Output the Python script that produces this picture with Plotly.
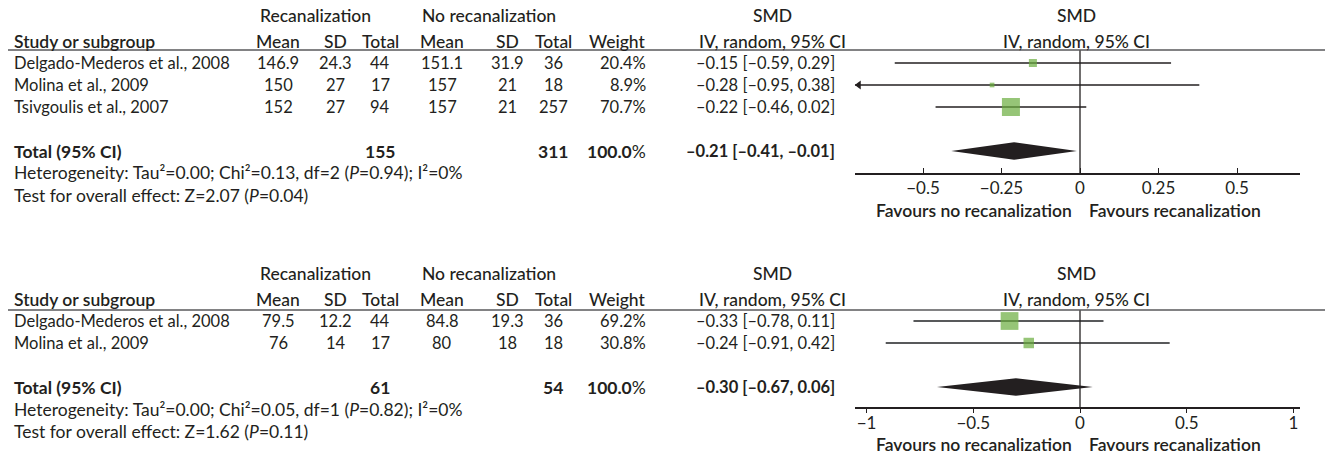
import plotly.graph_objects as go

W, H = 1325, 454

# ---------- Outcome 1 ----------
p1_studies = ["Delgado-Mederos et al., 2008", "Molina et al., 2009", "Tsivgoulis et al., 2007"]
p1_rec_mean = [146.9, 150, 152]
p1_rec_sd = [24.3, 27, 27]
p1_rec_n = [44, 17, 94]
p1_norec_mean = [151.1, 157, 157]
p1_norec_sd = [31.9, 21, 21]
p1_norec_n = [36, 18, 257]
p1_weight = [20.4, 8.9, 70.7]
p1_smd = [-0.15, -0.28, -0.22]
p1_lo = [-0.59, -0.95, -0.46]
p1_hi = [0.29, 0.38, 0.02]
p1_total_smd = [-0.21, -0.41, -0.01]
p1_total_n = [155, 311]
p1_het = ["0.00", "0.13", "2", "0.94", "0"]
p1_z = ["2.07", "0.04"]
p1_ticks = [-0.5, -0.25, 0, 0.25, 0.5]

# ---------- Outcome 2 ----------
p2_studies = ["Delgado-Mederos et al., 2008", "Molina et al., 2009"]
p2_rec_mean = [79.5, 76]
p2_rec_sd = [12.2, 14]
p2_rec_n = [44, 17]
p2_norec_mean = [84.8, 80]
p2_norec_sd = [19.3, 18]
p2_norec_n = [36, 18]
p2_weight = [69.2, 30.8]
p2_smd = [-0.33, -0.24]
p2_lo = [-0.78, -0.91]
p2_hi = [0.11, 0.42]
p2_total_smd = [-0.30, -0.67, 0.06]
p2_total_n = [61, 54]
p2_het = ["0.00", "0.05", "1", "0.82", "0"]
p2_z = ["1.62", "0.11"]
p2_ticks = [-1, -0.5, 0, 0.5, 1]

FONT = "Lato"
TXT = "#231f20"
GREEN = "#6aad3d"
RULE = "#58595b"
FS_ROW = 16.5   # study rows
FS_BIG = 17.5   # headings, totals and footers
FS_TICK = 17

# column x positions (pixels)
X_STUDY = 12
X_RMEAN, X_RSD, X_RN = 278, 336, 380
X_NMEAN, X_NSD, X_NN = 442, 507, 553
X_WEIGHT = 648
X_SMD_R, X_SMD_C = 837, 772
X_REC_HDR, X_NOREC_HDR = 315, 489
X_PLOT0, X_PLOT1 = 855, 1300
X_FOREST_C = 1076
ROW_H = 22

# pixel layout of the two panels: (first row, heading rule, axis line)
P1 = (63, 50, 173)
P2 = (321, 310, 407)


def minus(s):
    return s.replace("-", "\u2013")


def fmt_ci(est, lo, hi):
    return minus(f"{est:.2f} [{lo:.2f}, {hi:.2f}]")


def box_size(w):
    return 18 * (w / 70.7) ** 0.65


fig = go.Figure()
ann = []
shapes = []


def text(x, row, s, p, anchor="center", weight=400, size=FS_ROW):
    y_px = p[0] + row * ROW_H
    ann.append(dict(x=x / W, xref="paper", y=1 - y_px / H, yref="paper", text=s,
                    showarrow=False, xanchor=anchor, yanchor="middle",
                    font=dict(family=FONT, size=size, color=TXT, weight=weight)))


def panel(ax, p, studies, rm, rsd, rn, nm, nsd, nn, wt, smd, lo, hi, tot, tot_n,
          het, z, xrange, line_w, line_c):
    xa = "x" if ax == 1 else f"x{ax}"
    ya = "y" if ax == 1 else f"y{ax}"
    k = len(studies)
    r_tot, r_het, r_test = k + 1, k + 2, k + 3

    # column headings
    for row, items in ((-2.15, [(X_REC_HDR, "Recanalization"), (X_NOREC_HDR, "No recanalization"),
                                (X_SMD_C, "SMD"), (X_FOREST_C, "SMD")]),
                       (-1.0, [(X_RMEAN, "Mean"), (X_RSD, "SD"), (X_RN, "Total"),
                               (X_NMEAN, "Mean"), (X_NSD, "SD"), (X_NN, "Total"),
                               (X_SMD_C, "IV, random, 95% CI"), (X_FOREST_C, "IV, random, 95% CI")])):
        for x, s in items:
            text(x, row, s, p, weight=500, size=FS_BIG)
    text(X_STUDY, -1.0, "Study or subgroup", p, "left", weight=600, size=FS_BIG)
    text(X_WEIGHT, -1.0, "Weight", p, "right", weight=500, size=FS_BIG)

    # study rows
    for i in range(k):
        text(X_STUDY, i, studies[i], p, "left")
        text(X_RMEAN, i, f"{rm[i]:g}", p)
        text(X_RSD, i, f"{rsd[i]:g}", p)
        text(X_RN, i, f"{rn[i]}", p)
        text(X_NMEAN, i, f"{nm[i]:g}", p)
        text(X_NSD, i, f"{nsd[i]:g}", p)
        text(X_NN, i, f"{nn[i]}", p)
        text(X_WEIGHT, i, f"{wt[i]:.1f}%", p, "right")
        text(X_SMD_R, i, fmt_ci(smd[i], lo[i], hi[i]), p, "right")

    # total row and footers
    text(X_STUDY, r_tot, "Total (95% CI)", p, "left", weight=700, size=FS_BIG)
    text(X_RN, r_tot, f"{tot_n[0]}", p, weight=700, size=FS_BIG)
    text(X_NN, r_tot, f"{tot_n[1]}", p, weight=700, size=FS_BIG)
    text(X_WEIGHT, r_tot, f"<b>{sum(wt):.1f}</b>%", p, "right", size=FS_BIG)
    text(X_SMD_R, r_tot, fmt_ci(*tot), p, "right", weight=700, size=FS_ROW)
    text(X_STUDY, r_het,
         f"Heterogeneity: Tau\u00b2={het[0]}; Chi\u00b2={het[1]}, df={het[2]} "
         f"(<i>P</i>={het[3]}); I\u00b2={het[4]}%", p, "left", size=FS_BIG)
    text(X_STUDY, r_test, f"Test for overall effect: Z={z[0]} (<i>P</i>={z[1]})", p, "left",
         size=FS_BIG)

    # favours labels under the axis
    y_fav = (p[2] + 37 - p[0]) / ROW_H
    text(X_FOREST_C - 2, y_fav, "Favours no recanalization", p, "right", weight=600, size=FS_BIG)
    text(X_FOREST_C + 11, y_fav, "Favours recanalization", p, "left", weight=600, size=FS_BIG)

    # confidence intervals (clipped to the axis, arrow when out of range)
    for i in range(k):
        x0 = max(lo[i], xrange[0])
        x1 = min(hi[i], xrange[1])
        fig.add_trace(go.Scatter(x=[x0, x1], y=[i, i], mode="lines", xaxis=xa, yaxis=ya,
                                 line=dict(color=line_c, width=line_w), hoverinfo="skip"))
        if lo[i] < xrange[0]:
            fig.add_trace(go.Scatter(x=[x0 + 0.012], y=[i], mode="markers", xaxis=xa, yaxis=ya,
                                     cliponaxis=False,
                                     marker=dict(symbol="triangle-left", size=8, color=TXT,
                                                 line=dict(width=0)), hoverinfo="skip"))
    # study weights as squares
    fig.add_trace(go.Scatter(x=smd, y=list(range(k)), mode="markers", xaxis=xa, yaxis=ya,
                             marker=dict(symbol="square", size=[box_size(w) for w in wt],
                                         color=GREEN, line=dict(width=0)),
                             hoverinfo="skip"))
    # pooled diamond
    est, tlo, thi = tot
    h = 0.4
    fig.add_trace(go.Scatter(x=[tlo, est, thi, est, tlo],
                             y=[r_tot, r_tot - h, r_tot, r_tot + h, r_tot],
                             mode="lines", fill="toself", fillcolor=TXT, xaxis=xa, yaxis=ya,
                             line=dict(width=0, color=TXT), hoverinfo="skip"))
    # line of no effect
    shapes.append(dict(type="line", xref=xa, x0=0, x1=0, yref=f"{ya} domain", y0=0, y1=1,
                       line=dict(color=TXT, width=1.3)))
    # heading rule across the full width
    y_rule = 1 - p[1] / H
    shapes.append(dict(type="line", xref="paper", x0=8 / W, x1=1, yref="paper",
                       y0=y_rule, y1=y_rule, line=dict(color=RULE, width=1.6)))


p1_range = [-(1080 - X_PLOT0) / 314, (X_PLOT1 - 1080) / 314]
p2_range = [-(1080 - X_PLOT0) / 213.5, (X_PLOT1 - 1080) / 213.5]

panel(1, P1, p1_studies, p1_rec_mean, p1_rec_sd, p1_rec_n, p1_norec_mean, p1_norec_sd,
      p1_norec_n, p1_weight, p1_smd, p1_lo, p1_hi, p1_total_smd, p1_total_n, p1_het, p1_z,
      p1_range, 1.4, TXT)
panel(2, P2, p2_studies, p2_rec_mean, p2_rec_sd, p2_rec_n, p2_norec_mean, p2_norec_sd,
      p2_norec_n, p2_weight, p2_smd, p2_lo, p2_hi, p2_total_smd, p2_total_n, p2_het, p2_z,
      p2_range, 1.8, RULE)


def yaxis_for(p):
    first, rule, axis = p
    return dict(domain=[1 - axis / H, 1 - rule / H],
                range=[(axis - first) / ROW_H, (rule - first) / ROW_H],
                visible=False, fixedrange=True)


tick_font = dict(family=FONT, size=FS_TICK, color=TXT)
common_x = dict(domain=[X_PLOT0 / W, X_PLOT1 / W], showgrid=False, zeroline=False,
                showline=True, linecolor=TXT, linewidth=1.5, tickcolor=TXT, tickwidth=1.3,
                tickfont=tick_font, fixedrange=True)

fig.update_layout(
    width=W, height=H, margin=dict(l=0, r=0, t=0, b=0),
    paper_bgcolor="white", plot_bgcolor="white", showlegend=False,
    xaxis=dict(**common_x, anchor="y", range=p1_range, tickvals=p1_ticks,
               ticks="inside", ticklen=5, ticklabelstandoff=-1),
    yaxis=yaxis_for(P1),
    xaxis2=dict(**common_x, anchor="y2", range=p2_range, tickvals=p2_ticks,
                ticks="outside", ticklen=4, ticklabelstandoff=-4),
    yaxis2=yaxis_for(P2),
    xaxis3=dict(domain=[X_PLOT0 / W, X_PLOT1 / W], anchor="y2", overlaying="x2",
                range=p2_range, tickvals=p2_ticks, ticks="inside", ticklen=5,
                tickcolor=TXT, tickwidth=1.3, showticklabels=False, showline=False,
                showgrid=False, zeroline=False, fixedrange=True),
    annotations=ann,
    shapes=shapes,
)

fig.write_html("out.html")
